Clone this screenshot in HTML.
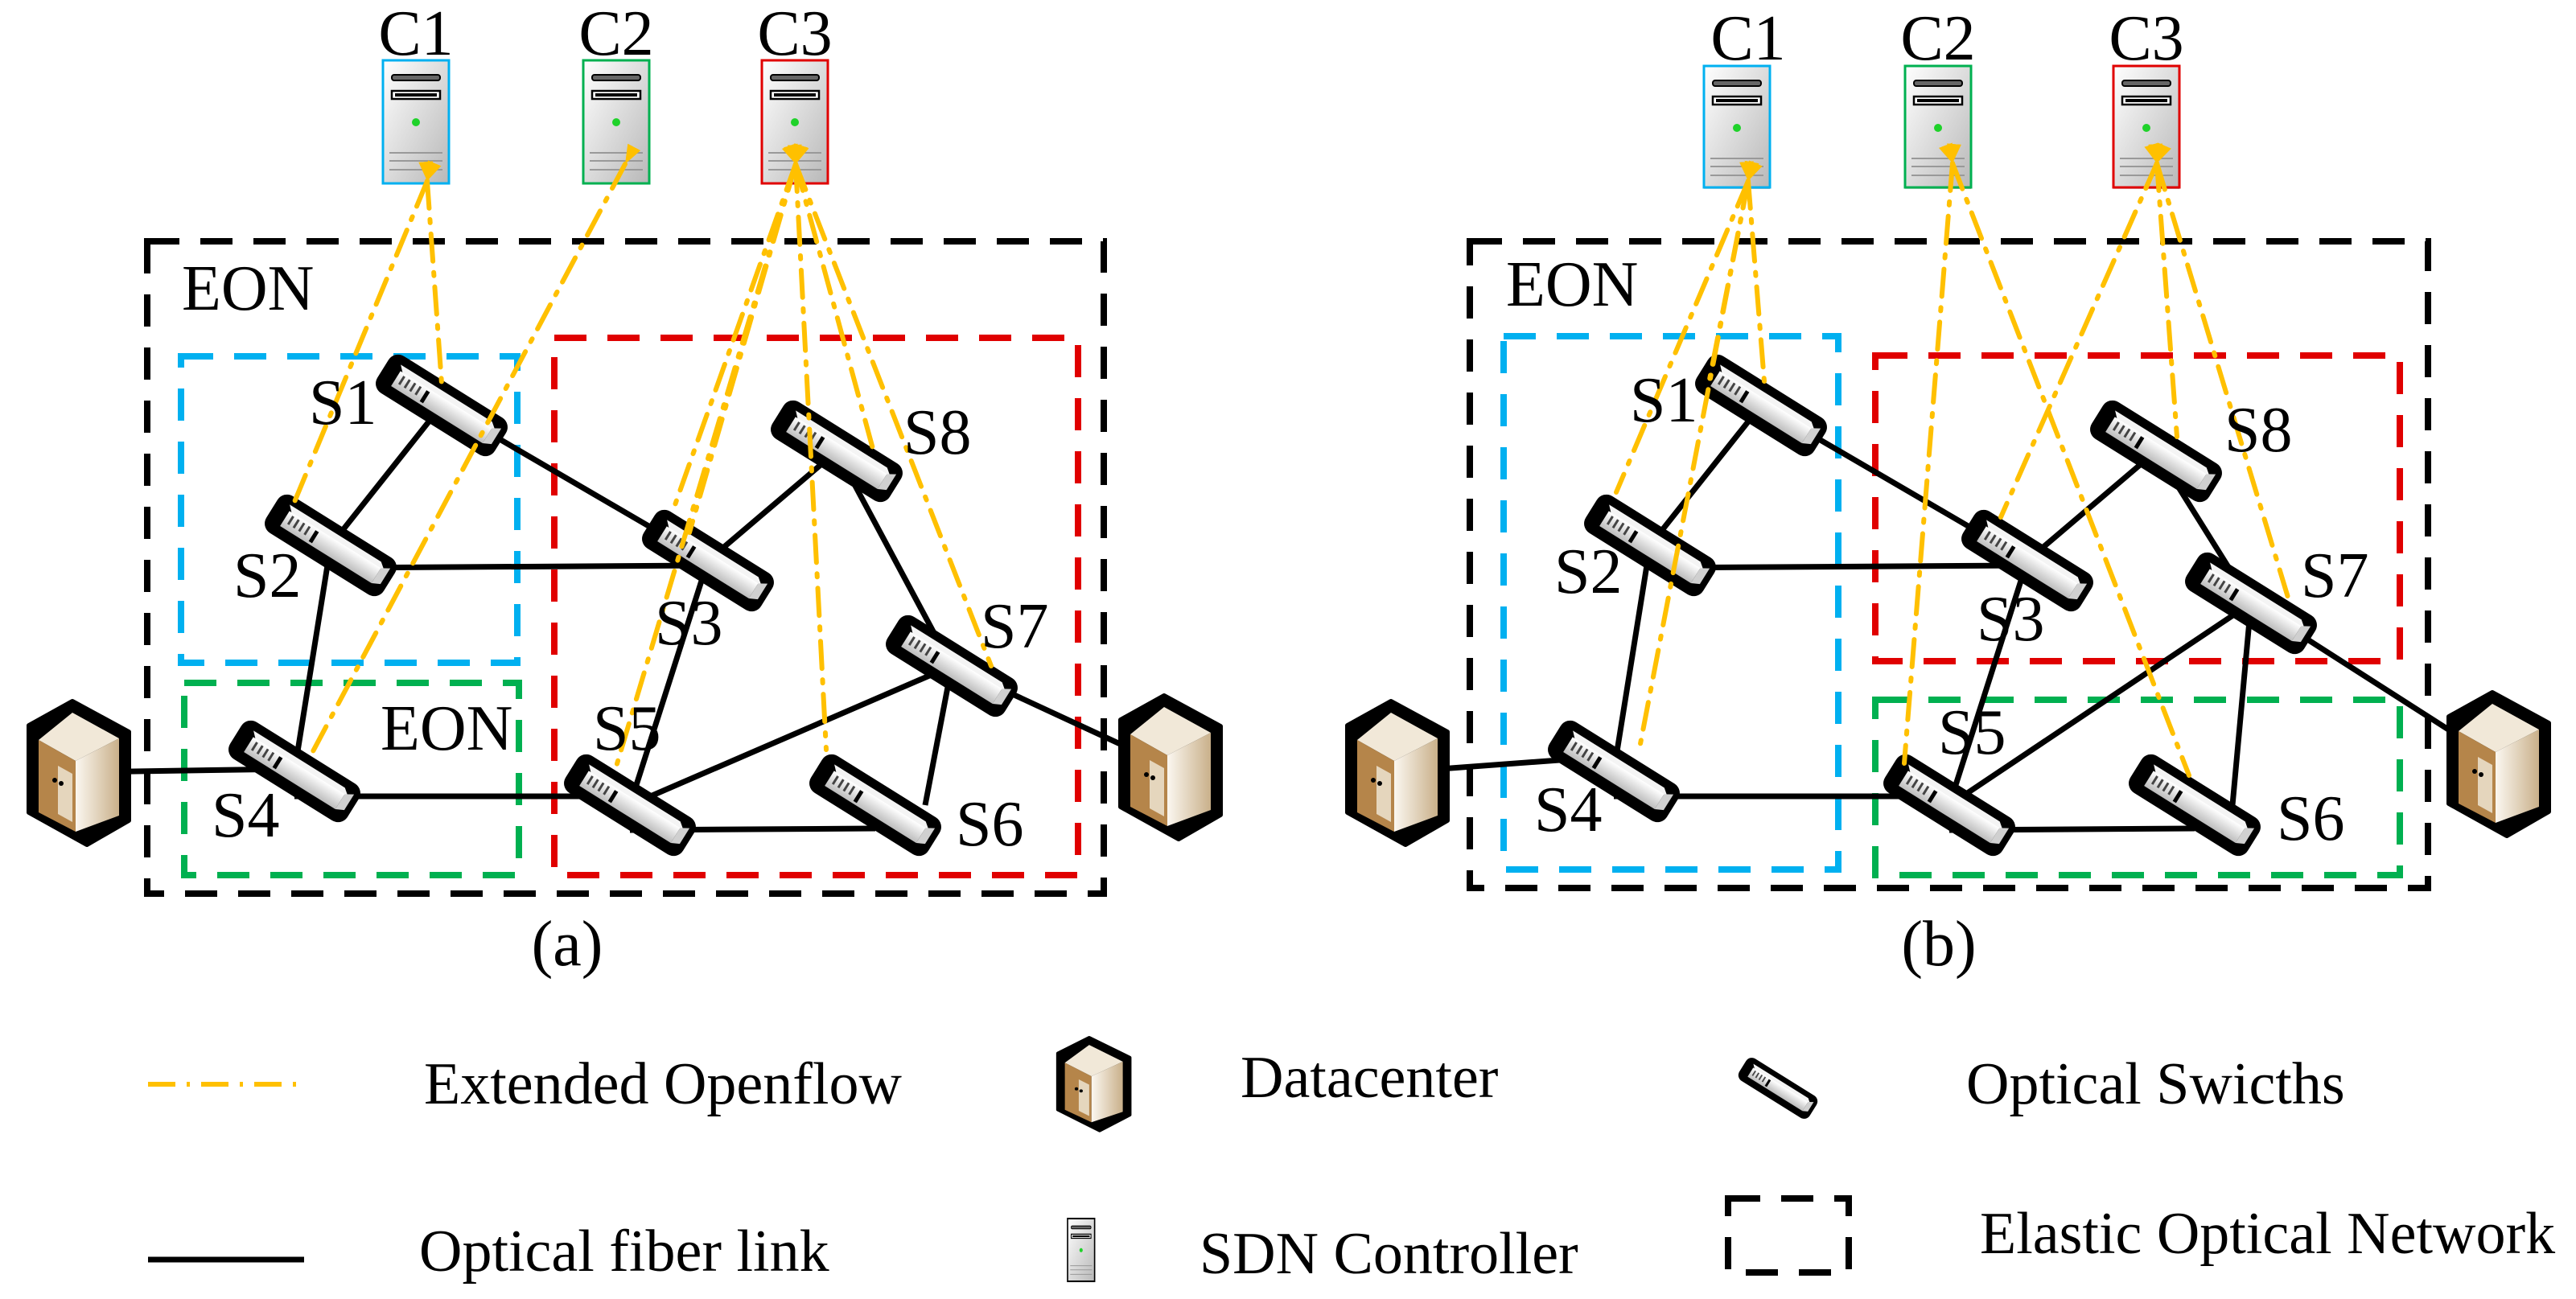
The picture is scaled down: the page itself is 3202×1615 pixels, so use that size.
<!DOCTYPE html>
<html><head><meta charset="utf-8"><style>
html,body{margin:0;padding:0;background:#fff;}
svg{display:block;}
svg text{font-family:"Liberation Serif","DejaVu Serif","Times New Roman",serif;}
</style></head><body>
<svg width="3202" height="1615" viewBox="0 0 3202 1615" xmlns="http://www.w3.org/2000/svg">
<defs>
<linearGradient id="srv" x1="0" y1="0" x2="1" y2="1"><stop offset="0" stop-color="#ffffff"/><stop offset="1" stop-color="#b8b8b8"/></linearGradient>
<linearGradient id="sw" x1="0" y1="0" x2="0" y2="1"><stop offset="0" stop-color="#ffffff"/><stop offset="1" stop-color="#bdbdbd"/></linearGradient>
<linearGradient id="dcr" x1="0" y1="0" x2="1" y2="0"><stop offset="0" stop-color="#fbf7f0"/><stop offset="1" stop-color="#c9b08a"/></linearGradient>
<g id="server">
  <rect x="0" y="0" width="82" height="153" fill="url(#srv)"/>
  <rect x="11" y="18" width="60" height="7" rx="3" fill="#666" stroke="#000" stroke-width="2"/>
  <rect x="11" y="38" width="60" height="10" fill="#fff" stroke="#000" stroke-width="2.5"/>
  <rect x="15" y="41" width="52" height="4" fill="#000"/>
  <circle cx="41" cy="77" r="5" fill="#1fd22a"/>
  <g stroke="#999" stroke-width="2"><line x1="8" y1="115" x2="74" y2="115"/><line x1="8" y1="125" x2="74" y2="125"/><line x1="8" y1="136" x2="74" y2="136"/></g>
</g>
<g id="switch">
  <rect x="-86" y="-27" width="172" height="54" rx="14" fill="#000"/>
  <polygon points="-70,-16 64,-16 74,-8 -62,-8" fill="#f4f4f4"/>
  <rect x="-66" y="-9" width="134" height="22" fill="url(#sw)"/>
  <polygon points="68,-9 78,-15 78,8 68,13" fill="#d0d0d0"/>
  <g fill="#444"><rect x="-60" y="-6" width="3" height="12"/><rect x="-52" y="-6" width="3" height="12"/><rect x="-44" y="-6" width="3" height="12"/><rect x="-36" y="-6" width="3" height="12"/><rect x="-26" y="-6" width="5" height="16" fill="#000"/></g>
</g>
<g id="dc">
  <polygon points="54,0 124,38 124,148 72,178 0,138 0,30" fill="#000" stroke="#000" stroke-width="6" stroke-linejoin="round"/>
  <polygon points="54,14 112,46 58,74 12,48" fill="#f1e8d8"/>
  <polygon points="12,48 58,74 58,162 12,138" fill="#b5854a"/>
  <polygon points="58,74 112,46 112,142 58,162" fill="url(#dcr)"/>
  <polygon points="36,80 54,90 54,150 36,140" fill="#e5d6bd"/>
  <circle cx="32" cy="98" r="3" fill="#000"/><circle cx="40" cy="102" r="3" fill="#000"/>
</g>
<marker id="ar" markerWidth="4" markerHeight="3" refX="0" refY="1.5" orient="auto-start-reverse" markerUnits="strokeWidth"><path d="M0,1.5 L4,0 L4,3 Z" fill="#FFC000"/></marker>
</defs>

<g fill="none" stroke-width="8" stroke-dasharray="40,26">
  <rect x="183" y="300" width="1189" height="811" stroke="#000"/>
  <rect x="225" y="443" width="418" height="381" stroke="#00B0F0"/>
  <rect x="229" y="849" width="416" height="239" stroke="#00B050"/>
  <rect x="689" y="420" width="651" height="668" stroke="#E00000"/>
</g>
<g stroke="#000" stroke-width="7" fill="none">
  <line x1="549" y1="504" x2="411" y2="678"/>
  <line x1="549" y1="504" x2="880" y2="697"/>
  <line x1="411" y1="706" x2="880" y2="703"/>
  <line x1="411" y1="678" x2="366" y2="959"/>
  <line x1="366" y1="990" x2="783" y2="990"/>
  <line x1="98" y1="960" x2="366" y2="956"/>
  <line x1="880" y1="697" x2="1040" y2="561"/>
  <line x1="880" y1="697" x2="783" y2="1001"/>
  <line x1="1040" y1="561" x2="1183" y2="828"/>
  <line x1="783" y1="1001" x2="1183" y2="828"/>
  <line x1="783" y1="1032" x2="1088" y2="1030"/>
  <line x1="1183" y1="828" x2="1150" y2="1001"/>
  <line x1="1183" y1="828" x2="1457" y2="955"/>
</g>
<use href="#dc" x="36" y="872"/>
<use href="#dc" x="1393" y="865"/>
<use href="#switch" transform="translate(549,504) rotate(32)"/>
<use href="#switch" transform="translate(411,678) rotate(32)"/>
<use href="#switch" transform="translate(880,697) rotate(32)"/>
<use href="#switch" transform="translate(1040,561) rotate(32)"/>
<use href="#switch" transform="translate(1183,828) rotate(32)"/>
<use href="#switch" transform="translate(783,1001) rotate(32)"/>
<use href="#switch" transform="translate(1088,1001) rotate(32)"/>
<use href="#switch" transform="translate(366,959) rotate(32)"/>
<use href="#server" x="476" y="75"/><rect x="476" y="75" width="82" height="153" fill="none" stroke="#00B0F0" stroke-width="3"/>
<use href="#server" x="725" y="75"/><rect x="725" y="75" width="82" height="153" fill="none" stroke="#00B050" stroke-width="3"/>
<use href="#server" x="947" y="75"/><rect x="947" y="75" width="82" height="153" fill="none" stroke="#E00000" stroke-width="3"/>
<g stroke="#FFC000" stroke-width="6" fill="none" stroke-dasharray="34,14,4,14" stroke-linecap="round" marker-start="url(#ar)">
  <line x1="531" y1="225" x2="366" y2="624"/>
  <line x1="531" y1="225" x2="549" y2="477"/>
  <line x1="777" y1="204" x2="388" y2="936"/>
  <line x1="989" y1="204" x2="835" y2="639"/>
  <line x1="989" y1="204" x2="857" y2="662"/>
  <line x1="989" y1="204" x2="763" y2="963"/>
  <line x1="989" y1="204" x2="1027" y2="932"/>
  <line x1="989" y1="204" x2="1085" y2="558"/>
  <line x1="989" y1="204" x2="1232" y2="828"/>
</g>
<g font-size="80" fill="#000">
  <text x="517" y="68" text-anchor="middle">C1</text>
  <text x="766" y="68" text-anchor="middle">C2</text>
  <text x="988" y="68" text-anchor="middle">C3</text>
  <text x="226" y="385">EON</text>
  <text x="473" y="932">EON</text>
  <text x="384" y="527">S1</text>
  <text x="290" y="742">S2</text>
  <text x="814" y="801">S3</text>
  <text x="1123" y="564">S8</text>
  <text x="1219" y="805">S7</text>
  <text x="737" y="932">S5</text>
  <text x="1188" y="1051">S6</text>
  <text x="263" y="1040">S4</text>
  <text x="705" y="1200" text-anchor="middle">(a)</text>
</g>

<g fill="none" stroke-width="8" stroke-dasharray="40,26">
  <rect x="1827" y="300" width="1191" height="804" stroke="#000"/>
  <rect x="1869" y="418" width="416" height="663" stroke="#00B0F0"/>
  <rect x="2331" y="442" width="652" height="380" stroke="#E00000"/>
  <rect x="2331" y="870" width="652" height="218" stroke="#00B050"/>
</g>
<g stroke="#000" stroke-width="7" fill="none">
  <line x1="2189" y1="504" x2="2051" y2="678"/>
  <line x1="2189" y1="504" x2="2520" y2="697"/>
  <line x1="2051" y1="706" x2="2520" y2="703"/>
  <line x1="2051" y1="678" x2="2006" y2="959"/>
  <line x1="2006" y1="990" x2="2423" y2="990"/>
  <line x1="1735" y1="960" x2="2006" y2="940"/>
  <line x1="2520" y1="697" x2="2680" y2="561"/>
  <line x1="2520" y1="697" x2="2423" y2="1001"/>
  <line x1="2680" y1="561" x2="2798" y2="750"/>
  <line x1="2423" y1="1001" x2="2798" y2="750"/>
  <line x1="2423" y1="1032" x2="2728" y2="1030"/>
  <line x1="2798" y1="750" x2="2775" y2="1001"/>
  <line x1="2798" y1="750" x2="3109" y2="949"/>
</g>
<use href="#dc" x="1675" y="872"/>
<use href="#dc" x="3044" y="861"/>
<use href="#switch" transform="translate(2189,504) rotate(32)"/>
<use href="#switch" transform="translate(2051,678) rotate(32)"/>
<use href="#switch" transform="translate(2520,697) rotate(32)"/>
<use href="#switch" transform="translate(2680,561) rotate(32)"/>
<use href="#switch" transform="translate(2798,750) rotate(32)"/>
<use href="#switch" transform="translate(2423,1001) rotate(32)"/>
<use href="#switch" transform="translate(2728,1001) rotate(32)"/>
<use href="#switch" transform="translate(2006,959) rotate(32)"/>
<use href="#server" x="2118" y="82"/><rect x="2118" y="82" width="82" height="151" fill="none" stroke="#00B0F0" stroke-width="3"/>
<use href="#server" x="2368" y="82"/><rect x="2368" y="82" width="82" height="151" fill="none" stroke="#00B050" stroke-width="3"/>
<use href="#server" x="2627" y="82"/><rect x="2627" y="82" width="82" height="151" fill="none" stroke="#E00000" stroke-width="3"/>
<g stroke="#FFC000" stroke-width="6" fill="none" stroke-dasharray="34,14,4,14" stroke-linecap="round" marker-start="url(#ar)">
  <line x1="2173" y1="225" x2="2009" y2="612"/>
  <line x1="2173" y1="225" x2="2123" y2="482"/>
  <line x1="2173" y1="225" x2="2193" y2="474"/>
  <line x1="2173" y1="225" x2="2038" y2="930"/>
  <line x1="2427" y1="203" x2="2367" y2="949"/>
  <line x1="2427" y1="203" x2="2721" y2="964"/>
  <line x1="2681" y1="203" x2="2487" y2="643"/>
  <line x1="2681" y1="203" x2="2706" y2="543"/>
  <line x1="2681" y1="203" x2="2845" y2="746"/>
</g>
<g font-size="80" fill="#000">
  <text x="2173" y="74" text-anchor="middle">C1</text>
  <text x="2409" y="74" text-anchor="middle">C2</text>
  <text x="2668" y="74" text-anchor="middle">C3</text>
  <text x="1872" y="380">EON</text>
  <text x="2026" y="524">S1</text>
  <text x="1932" y="737">S2</text>
  <text x="2457" y="796">S3</text>
  <text x="2765" y="561">S8</text>
  <text x="2860" y="742">S7</text>
  <text x="2409" y="937">S5</text>
  <text x="2830" y="1044">S6</text>
  <text x="1907" y="1033">S4</text>
  <text x="2410" y="1200" text-anchor="middle">(b)</text>
</g>

<line x1="184" y1="1348" x2="378" y2="1348" stroke="#FFC000" stroke-width="6" stroke-dasharray="34,14,4,14"/>
<line x1="184" y1="1566" x2="378" y2="1566" stroke="#000" stroke-width="7"/>
<g transform="translate(1315,1290) scale(0.72,0.65)"><use href="#dc"/></g>
<use href="#switch" transform="translate(2210,1353) rotate(32) scale(0.6)"/>
<g transform="translate(1327,1515) scale(0.41,0.51)"><use href="#server"/><rect x="0" y="0" width="82" height="153" fill="none" stroke="#000" stroke-width="4"/></g>
<rect x="2148" y="1490" width="150" height="92" fill="none" stroke="#000" stroke-width="8" stroke-dasharray="40,26"/>
<g font-size="74" fill="#000">
  <text x="527" y="1372">Extended Openflow</text>
  <text x="1542" y="1364">Datacenter</text>
  <text x="2444" y="1372">Optical Swicths</text>
  <text x="521" y="1580">Optical fiber link</text>
  <text x="1491" y="1583">SDN Controller</text>
  <text x="2461" y="1558">Elastic Optical Network</text>
</g>
</svg>
</body></html>
